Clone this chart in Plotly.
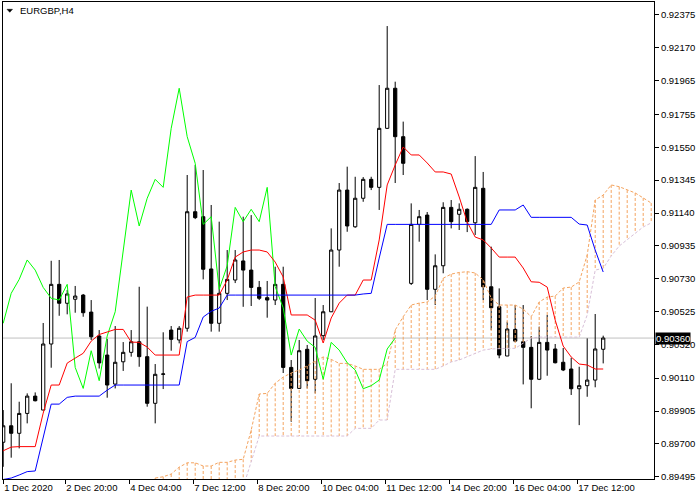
import plotly.graph_objects as go

# ---------------- data ----------------
bar_index = list(range(76))

opens = [0.89710, 0.89813, 0.89766, 0.89890, 0.89998, 0.89911, 0.90323, 0.90695, 0.90577, 0.90602,
         0.90628, 0.90522, 0.90373, 0.90254, 0.90073, 0.90212, 0.90271, 0.90337, 0.90244, 0.89953,
         0.90134, 0.90410, 0.90348, 0.90421, 0.91148, 0.91117, 0.90791, 0.90452, 0.90639, 0.90722,
         0.90841, 0.90784, 0.90676, 0.90612, 0.90597, 0.90695, 0.90177, 0.90046, 0.90290, 0.90103,
         0.90375, 0.90524, 0.90909, 0.91283, 0.91054, 0.91232, 0.91350, 0.91300, 0.91668, 0.91918,
         0.91616, 0.90701, 0.91069, 0.91127, 0.90664, 0.90811, 0.91175, 0.91132, 0.91163, 0.91079,
         0.91294, 0.90680, 0.90555, 0.90248, 0.90414, 0.90337, 0.90302, 0.90103, 0.90333, 0.90292,
         0.90209, 0.90167, 0.90044, 0.90063, 0.90098, 0.90290]
highs = [0.89911, 0.90078, 0.89963, 0.90015, 0.90021, 0.90454, 0.90842, 0.90847, 0.90660, 0.90685,
         0.90635, 0.90597, 0.90410, 0.90354, 0.90435, 0.90335, 0.90410, 0.90680, 0.90556, 0.90198,
         0.90396, 0.90435, 0.90435, 0.91377, 0.91439, 0.91408, 0.91190, 0.91086, 0.90909, 0.90909,
         0.91117, 0.91127, 0.90716, 0.90716, 0.90805, 0.90805, 0.90223, 0.90348, 0.90317, 0.90610,
         0.90566, 0.91044, 0.91327, 0.91429, 0.91366, 0.91364, 0.91366, 0.91938, 0.92306, 0.91959,
         0.91710, 0.91200, 0.91159, 0.91146, 0.90882, 0.91207, 0.91221, 0.91200, 0.91169, 0.91495,
         0.91396, 0.90930, 0.90670, 0.90462, 0.90566, 0.90566, 0.90373, 0.90431, 0.90504, 0.90323,
         0.90298, 0.90237, 0.90181, 0.90358, 0.90510, 0.90375]
lows = [0.89557, 0.89614, 0.89672, 0.89828, 0.89965, 0.89911, 0.90175, 0.90499, 0.90508, 0.90518,
        0.90493, 0.90348, 0.90170, 0.89988, 0.90046, 0.90155, 0.90244, 0.90181, 0.89932, 0.89828,
        0.90042, 0.90281, 0.90327, 0.90400, 0.91102, 0.90726, 0.90400, 0.90400, 0.90597, 0.90703,
        0.90555, 0.90560, 0.90597, 0.90487, 0.90566, 0.90142, 0.89838, 0.90046, 0.90046, 0.90015,
        0.90348, 0.90522, 0.90805, 0.91023, 0.91048, 0.91210, 0.91283, 0.91159, 0.91664, 0.91327,
        0.91377, 0.90691, 0.90961, 0.90597, 0.90566, 0.90764, 0.91044, 0.91034, 0.91021, 0.91003,
        0.90597, 0.90410, 0.90234, 0.90248, 0.90335, 0.90071, 0.89922, 0.90098, 0.90125, 0.90202,
        0.90154, 0.90005, 0.89817, 0.89994, 0.90053, 0.90202]
closes = [0.89813, 0.89766, 0.89890, 0.89998, 0.89969, 0.90323, 0.90695, 0.90577, 0.90635, 0.90622,
          0.90518, 0.90368, 0.90205, 0.90067, 0.90209, 0.90271, 0.90337, 0.90244, 0.89953, 0.90134,
          0.90136, 0.90352, 0.90421, 0.91148, 0.91111, 0.90789, 0.90452, 0.90639, 0.90726, 0.90847,
          0.90784, 0.90676, 0.90608, 0.90597, 0.90695, 0.90177, 0.90046, 0.90281, 0.90094, 0.90373,
          0.90524, 0.90909, 0.91283, 0.91059, 0.91232, 0.91350, 0.91300, 0.91668, 0.91918, 0.91616,
          0.91450, 0.91069, 0.91117, 0.90664, 0.90811, 0.91175, 0.91086, 0.91163, 0.91086, 0.91300,
          0.90680, 0.90549, 0.90254, 0.90416, 0.90341, 0.90302, 0.90103, 0.90333, 0.90285, 0.90206,
          0.90161, 0.90044, 0.90063, 0.90098, 0.90292, 0.90360]

tenkan = [0.89657, 0.89680, 0.89683, 0.89683, 0.89683, 0.89892, 0.90067, 0.90067, 0.90204, 0.90235,
          0.90265, 0.90341, 0.90382, 0.90398, 0.90414, 0.90414, 0.90335, 0.90333, 0.90304, 0.90254,
          0.90254, 0.90254, 0.90254, 0.90616, 0.90628, 0.90628, 0.90628, 0.90628, 0.90722, 0.90865,
          0.90897, 0.90909, 0.90909, 0.90897, 0.90834, 0.90741, 0.90504, 0.90504, 0.90504, 0.90472,
          0.90329, 0.90485, 0.90578, 0.90628, 0.90628, 0.90722, 0.90722, 0.90972, 0.91315, 0.91439,
          0.91552, 0.91502, 0.91502, 0.91452, 0.91396, 0.91396, 0.91383, 0.91240, 0.91084, 0.90990,
          0.90972, 0.90922, 0.90865, 0.90865, 0.90865, 0.90797, 0.90711, 0.90708, 0.90678, 0.90472,
          0.90310, 0.90242, 0.90198, 0.90192, 0.90167, 0.90167]
kijun = [0.89478, 0.89487, 0.89506, 0.89527, 0.89531, 0.89749, 0.89948, 0.89948, 0.89990, 0.89998,
         0.89998, 0.89998, 0.89998, 0.90035, 0.90067, 0.90067, 0.90067, 0.90067, 0.90067, 0.90067,
         0.90067, 0.90067, 0.90067, 0.90338, 0.90364, 0.90491, 0.90527, 0.90547, 0.90628, 0.90628,
         0.90628, 0.90628, 0.90628, 0.90628, 0.90628, 0.90628, 0.90628, 0.90628, 0.90628, 0.90628,
         0.90628, 0.90628, 0.90628, 0.90628, 0.90628, 0.90635, 0.90639, 0.90859, 0.91069, 0.91069,
         0.91069, 0.91069, 0.91069, 0.91069, 0.91069, 0.91069, 0.91069, 0.91069, 0.91069, 0.91069,
         0.91069, 0.91069, 0.91159, 0.91159, 0.91159, 0.91190, 0.91113, 0.91113, 0.91113, 0.91113,
         0.91113, 0.91113, 0.91071, 0.91065, 0.90909, 0.90772]
chikou = [0.90452, 0.90639, 0.90726, 0.90847, 0.90784, 0.90676, 0.90608, 0.90597, 0.90695, 0.90177,
          0.90046, 0.90281, 0.90094, 0.90373, 0.90524, 0.90909, 0.91283, 0.91059, 0.91232, 0.91350,
          0.91300, 0.91668, 0.91918, 0.91616, 0.91450, 0.91069, 0.91117, 0.90664, 0.90811, 0.91175,
          0.91086, 0.91163, 0.91086, 0.91300, 0.90680, 0.90549, 0.90254, 0.90416, 0.90341, 0.90302,
          0.90103, 0.90333, 0.90285, 0.90206, 0.90161, 0.90044, 0.90063, 0.90098, 0.90292, 0.90360]

cloud_start = 19
span_a = [0.89487, 0.89495, 0.89512, 0.89555, 0.89582, 0.89582, 0.89562, 0.89562, 0.89585, 0.89585,
          0.89599, 0.89604, 0.89786, 0.90011, 0.90015, 0.90078, 0.90117, 0.90142, 0.90161, 0.90186,
          0.90217, 0.90242, 0.90227, 0.90202, 0.90202, 0.90186, 0.90165, 0.90165, 0.90165, 0.90202,
          0.90410, 0.90493, 0.90566, 0.90578, 0.90585, 0.90622, 0.90733, 0.90759, 0.90769, 0.90774,
          0.90766, 0.90722, 0.90610, 0.90566, 0.90566, 0.90566, 0.90541, 0.90493, 0.90585, 0.90616,
          0.90622, 0.90672, 0.90678, 0.90710, 0.90878, 0.91221, 0.91252, 0.91315, 0.91304, 0.91283,
          0.91265, 0.91234, 0.91202]
span_b = [0.89400, 0.89400, 0.89400, 0.89400, 0.89400, 0.89400, 0.89400, 0.89400, 0.89400, 0.89400,
          0.89400, 0.89430, 0.89590, 0.89749, 0.89749, 0.89749, 0.89749, 0.89749, 0.89749, 0.89749,
          0.89749, 0.89749, 0.89749, 0.89749, 0.89749, 0.89797, 0.89797, 0.89797, 0.89849, 0.89849,
          0.90165, 0.90165, 0.90165, 0.90165, 0.90165, 0.90165, 0.90186, 0.90211, 0.90223, 0.90242,
          0.90264, 0.90285, 0.90292, 0.90296, 0.90296, 0.90296, 0.90329, 0.90360, 0.90366, 0.90366,
          0.90366, 0.90366, 0.90366, 0.90366, 0.90504, 0.90784, 0.90795, 0.90872, 0.90934, 0.90972,
          0.91015, 0.91053, 0.91078]

x_tick_index = [0, 8, 16, 24, 32, 40, 48, 56, 64, 72]
x_tick_labels = ["1 Dec 2020", "2 Dec 20:00", "4 Dec 04:00", "7 Dec 12:00", "8 Dec 20:00",
                 "10 Dec 04:00", "11 Dec 12:00", "14 Dec 20:00", "16 Dec 04:00", "17 Dec 12:00"]
y_tick_values = [0.89495, 0.89700, 0.89905, 0.90110, 0.90320, 0.90525, 0.90730, 0.90935,
                 0.91140, 0.91345, 0.91550, 0.91755, 0.91965, 0.92170, 0.92375]
last_price = 0.90360
symbol_title = "EURGBP,H4"

# ---------------- styles ----------------
FONT = "Liberation Sans"
SANDY = "#F4A460"
THISTLE = "#D8BFD8"
X_RANGE = [-0.025, 81.35]
Y_RANGE = [0.89481, 0.92456]
TICK_SHIFT = -0.25  # MT4 draws the time separator tick slightly left of the bar centre

fig = go.Figure()

fig.add_trace(go.Candlestick(
    x=bar_index, open=opens, high=highs, low=lows, close=closes,
    increasing=dict(line=dict(color="black", width=1), fillcolor="white"),
    decreasing=dict(line=dict(color="black", width=1), fillcolor="black"),
    whiskerwidth=0, hoverinfo="skip", showlegend=False))

# cloud hatch (vertical dotted lines between span A and span B)
cloud_x = [cloud_start + k for k in range(len(span_a))]
hx_a, hy_a, hx_b, hy_b = [], [], [], []
for xi, a, b in zip(cloud_x, span_a, span_b):
    if a >= b:
        hx_a += [xi, xi, None]
        hy_a += [a, b, None]
    else:
        hx_b += [xi, xi, None]
        hy_b += [a, b, None]
fig.add_trace(go.Scatter(x=hx_a, y=hy_a, mode="lines", line=dict(color=SANDY, width=1, dash="3px,2px"),
                         hoverinfo="skip", showlegend=False))
if hx_b:
    fig.add_trace(go.Scatter(x=hx_b, y=hy_b, mode="lines", line=dict(color=THISTLE, width=1, dash="3px,2px"),
                             hoverinfo="skip", showlegend=False))
fig.add_trace(go.Scatter(x=cloud_x, y=span_a, mode="lines", line=dict(color=SANDY, width=1, dash="3px,2px"),
                         hoverinfo="skip", showlegend=False))
fig.add_trace(go.Scatter(x=cloud_x, y=span_b, mode="lines", line=dict(color=THISTLE, width=1, dash="3px,2px"),
                         hoverinfo="skip", showlegend=False))

# Chikou, Tenkan, Kijun
fig.add_trace(go.Scatter(x=bar_index[:len(chikou)], y=chikou, mode="lines",
                         line=dict(color="#00FF00", width=1), hoverinfo="skip", showlegend=False))
fig.add_trace(go.Scatter(x=bar_index, y=tenkan, mode="lines",
                         line=dict(color="#FF0000", width=1), hoverinfo="skip", showlegend=False))
fig.add_trace(go.Scatter(x=bar_index, y=kijun, mode="lines",
                         line=dict(color="#0000FF", width=1), hoverinfo="skip", showlegend=False))

# current price line
fig.add_shape(type="line", xref="paper", yref="y", x0=0, x1=1, y0=last_price, y1=last_price,
              line=dict(color="#C0C0C0", width=1), layer="below")

fig.update_layout(
    template="none",
    width=700, height=500,
    margin=dict(l=3, r=46, t=2, b=21, pad=0),
    paper_bgcolor="white", plot_bgcolor="white",
    showlegend=False,
    boxgap=0.42,
    font=dict(family=FONT, size=9.5, color="black"),
)
tick_positions = [max(i + TICK_SHIFT, X_RANGE[0] + 0.02) for i in x_tick_index]
fig.update_xaxes(
    range=X_RANGE, showgrid=False, zeroline=False, showline=True, mirror=True,
    linecolor="black", linewidth=1, ticks="outside", ticklen=4, tickwidth=1, tickcolor="black",
    tickvals=tick_positions, ticktext=x_tick_labels, tickangle=0,
    ticklabelposition="outside right", automargin=False,
    rangeslider=dict(visible=False), fixedrange=True,
    tickfont=dict(family=FONT, size=9.5, color="black"),
)
fig.update_yaxes(
    side="right", range=Y_RANGE, showgrid=False, zeroline=False, showline=True, mirror=True,
    linecolor="black", linewidth=1, ticks="outside", ticklen=4, tickwidth=1, tickcolor="black",
    tickvals=y_tick_values, ticktext=[f"{v:.5f}" for v in y_tick_values], automargin=False,
    fixedrange=True, tickfont=dict(family=FONT, size=9.5, color="black"),
)

# price label on the axis
fig.add_annotation(x=1, xref="paper", xanchor="left", xshift=1, y=last_price, yref="y",
                   yanchor="middle", text=f"{last_price:.5f}", showarrow=False,
                   bgcolor="black", borderpad=0, font=dict(family=FONT, size=9.5, color="white"))

# symbol title with triangle
fig.add_annotation(x=0.0235, xref="paper", y=0.9822, yref="paper", xanchor="left", yanchor="middle",
                   text=symbol_title, showarrow=False, font=dict(family=FONT, size=9.5, color="black"))
fig.add_shape(type="path", xref="paper", yref="paper",
              path="M 0.00614 0.9847 L 0.01459 0.9847 L 0.01037 0.97841 Z",
              fillcolor="black", line=dict(color="black", width=0.5))

fig.write_html("out.html", config={"displayModeBar": False},
               post_script="document.body.style.margin='0';document.body.style.overflow='hidden';")
